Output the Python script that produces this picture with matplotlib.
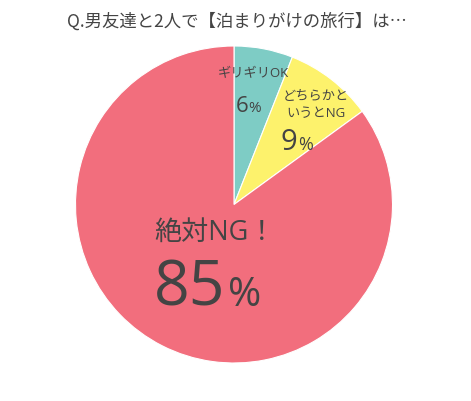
import matplotlib
matplotlib.use("Agg")
import matplotlib.pyplot as plt

plt.rcParams['font.family'] = ['Open Sans', 'Noto Sans CJK JP', 'DejaVu Sans']

title = "Q.男友達と2人で【泊まりがけの旅行】は…"
categories = ["ギリギリOK", "どちらかと\nいうとNG", "絶対NG！"]
values = [6, 9, 85]
colors = ["#7ECCC5", "#FDF26C", "#F26E7D"]
text_color = "#444444"

W, H = 471, 402
fig = plt.figure(figsize=(W / 100, H / 100), dpi=100)
cx, cy, r = 234, 205.5, 158.5
ax = fig.add_axes([(cx - r) / W, (H - cy - r) / H, 2 * r / W, 2 * r / H])
ax.pie(values, colors=colors, startangle=90, counterclock=False, radius=1,
       wedgeprops=dict(edgecolor="white", linewidth=0.8))
ax.set_xlim(-1, 1)
ax.set_ylim(-1, 1)
ax.set_aspect("equal")
ax.axis("off")

fig.text(237 / W, 1 - 22 / H, title, ha="center", va="center",
         fontsize=12.5, color=text_color, family=['Noto Sans CJK JP', 'DejaVu Sans'])

def px(x, y):
    return ((x - cx) / r, (cy - y) / r)

renderer = fig.canvas.get_renderer()

def pct(x, ybase, value, size_num, size_pct, gap=0):
    t = ax.text(*px(x, ybase), f"{value}", ha="left", va="baseline",
                fontsize=size_num, color=text_color)
    bb = t.get_window_extent(renderer)
    xd, _ = ax.transData.inverted().transform((bb.x1 + gap, 0))
    ax.text(xd, px(x, ybase)[1], "%", ha="left", va="baseline",
            fontsize=size_pct, color=text_color)

# small segment labels
ax.text(*px(253, 74), categories[0], ha="center", va="center", fontsize=9.5, color=text_color)
pct(236, 112, values[0], 16, 11)

ax.text(*px(316, 105), categories[1], ha="center", va="center", fontsize=9.5,
        color=text_color, linespacing=1.35)
pct(281, 150, values[1], 21, 13)

# main label
ax.text(*px(215, 233), categories[2], ha="center", va="center", fontsize=19.5, color=text_color)
pct(154, 306, values[2], 45, 29, gap=2)

fig.savefig("out.png", dpi=100)
